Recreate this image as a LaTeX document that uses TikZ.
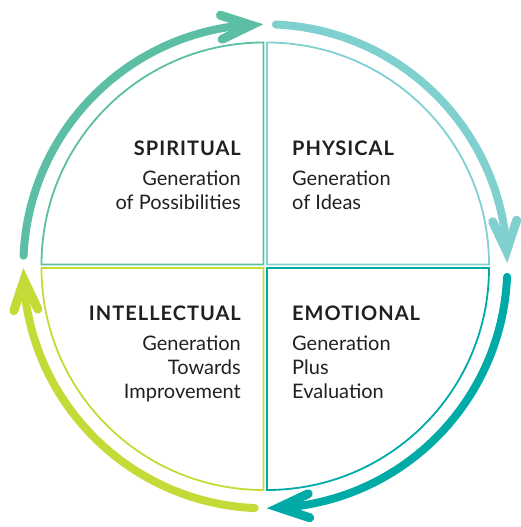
\documentclass[tikz,border=0pt]{standalone}
\usepackage{fontspec}
\setmainfont{Lato}
\newfontfamily\headfont[LetterSpace=5]{Lato}

\definecolor{spiritcol}{RGB}{91,190,165}
\definecolor{physcol}{RGB}{128,208,208}
\definecolor{emotcol}{RGB}{0,171,167}
\definecolor{intelcol}{RGB}{196,218,54}
\definecolor{inkcol}{RGB}{35,31,32}

\tikzset{
  quad/.style={line width=1.8pt},
  ring/.style={line width=8pt,line cap=round},
  ringtip/.pic={\draw[line width=9pt,line cap=round,line join=miter] (-42,12) -- (-12,0) -- (-42,-12);},
  qtitle/.style={inner sep=0pt,text=inkcol,font=\fontsize{20}{24}\selectfont\headfont\bfseries},
  qbody/.style={inner sep=0pt,text=inkcol,font=\fontsize{20}{24}\selectfont}
}

\begin{document}
\begin{tikzpicture}[x=1pt,y=1pt,yscale=-1]
\useasboundingbox (0,0) rectangle (520,527);

\coordinate (c) at (265.3,266.3);

%quadrants
\draw[quad,spiritcol] (263.5,264.5) -- (263.5,42.5) arc[start angle=-90,end angle=-180,radius=222] -- cycle;
\draw[quad,physcol] (267,264.5) -- (489,264.5) arc[start angle=0,end angle=-90,radius=222] -- cycle;
\draw[quad,emotcol] (267,268) -- (267,490) arc[start angle=90,end angle=0,radius=222] -- cycle;
\draw[quad,intelcol] (263.5,268) -- (41.5,268) arc[start angle=180,end angle=90,radius=222] -- cycle;

%outer arrows
\draw[ring,spiritcol] (c) ++(-177.5:242) arc[start angle=-177.5,end angle=-94,radius=242];
\path (c) ++(-90.5:242) pic[spiritcol,rotate=4] {ringtip};
\draw[ring,physcol] (c) ++(-87.5:242) arc[start angle=-87.5,end angle=-4.3,radius=242];
\path (c) ++(-0.8:242) pic[physcol,rotate=-86.5] {ringtip};
\draw[ring,emotcol] (c) ++(2.5:242) arc[start angle=2.5,end angle=86.1,radius=242];
\path (c) ++(89.6:242) pic[emotcol,rotate=183.5] {ringtip};
\draw[ring,intelcol] (c) ++(92.5:242) arc[start angle=92.5,end angle=176.1,radius=242];
\path (c) ++(179.6:242) pic[intelcol,rotate=93.5] {ringtip};

%labels
\node[qtitle,anchor=base east] (spirit) at (241,155) {SPIRITUAL};
\node[qbody,anchor=north east,align=right] (spiritbody) at (241,170.5) {Generation\\of Possibilities};
\node[qtitle,anchor=base west] (phys) at (292,155) {PHYSICAL};
\node[qbody,anchor=north west,align=left] (physbody) at (292,170.5) {Generation\\of Ideas};
\node[qtitle,anchor=base east] (intel) at (241,320) {INTELLECTUAL};
\node[qbody,anchor=north east,align=right] (intelbody) at (241,335.5) {Generation\\Towards\\Improvement};
\node[qtitle,anchor=base west] (emot) at (292,320) {EMOTIONAL};
\node[qbody,anchor=north west,align=left] (emotbody) at (292,335.5) {Generation\\Plus\\Evaluation};

\end{tikzpicture}
\end{document}
